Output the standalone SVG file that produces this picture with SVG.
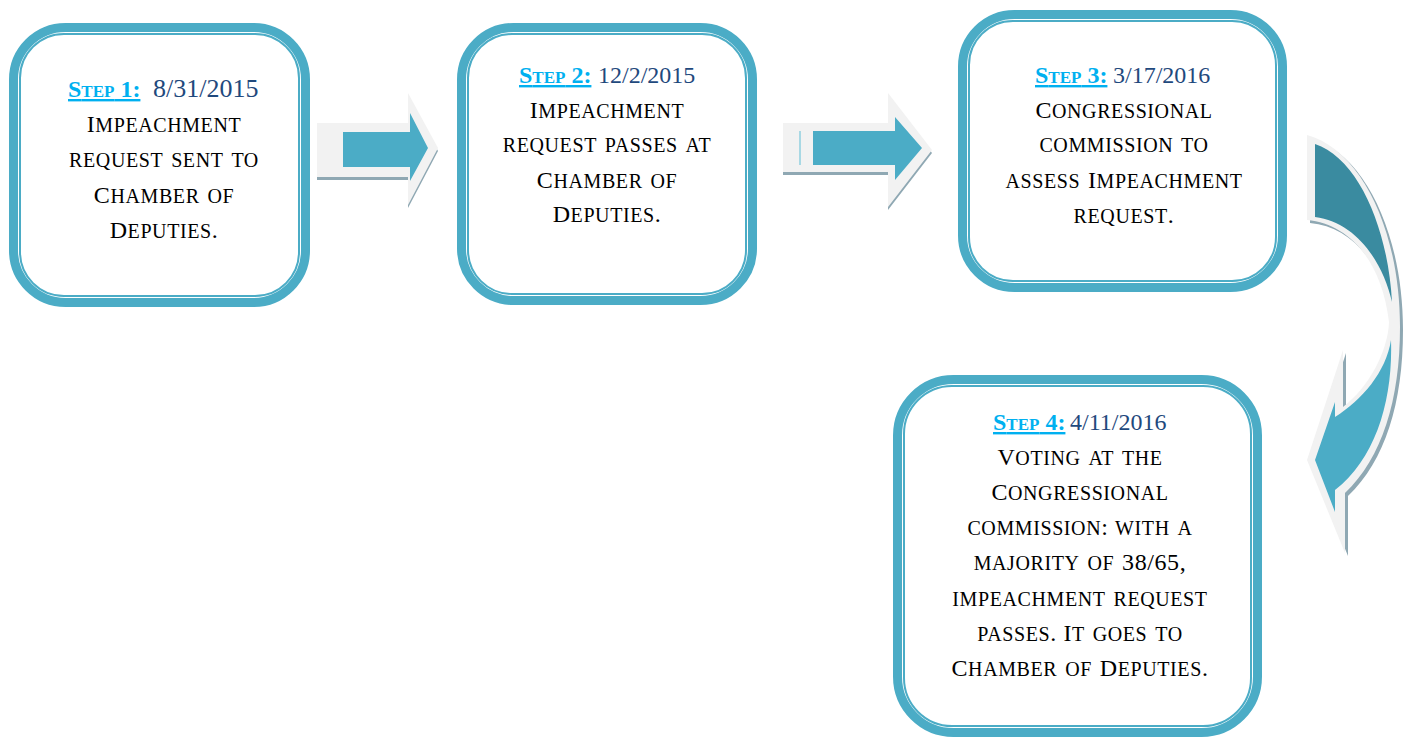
<svg xmlns="http://www.w3.org/2000/svg" width="1410" height="738" viewBox="0 0 1410 738">
<style>
.outer{fill:#fff;stroke:#4BACC6;stroke-width:9}
.inner{fill:none;stroke:#4BACC6;stroke-width:2}
.body{font-family:"Liberation Serif","Times New Roman",serif;font-size:24px;fill:#000;text-anchor:middle;letter-spacing:0.6px}
.sc{font-variant:small-caps;font-size:29px}
.lbl{font-family:"Liberation Serif","Times New Roman",serif;font-size:24px;font-weight:bold;fill:#00B0F0;text-decoration:underline}
.lsc{font-variant:small-caps;font-size:24px}
.date{font-family:"Liberation Serif","Times New Roman",serif;font-size:24px;fill:#1F497D}
.gray{fill:#F2F2F2}
.teal{fill:#4BACC6}
.dark{fill:#3A8BA0}
.shadow{fill:#8FA8B3}
</style>

<g id="connectors">
  <g id="arrow1">
    <path class="shadow" transform="translate(0,3)" d="M317,123 L408,123 L408,93 L438,148 L408,205 L408,177 L317,177 Z"/>
    <path class="gray" d="M317,123 L408,123 L408,93 L438,148 L408,205 L408,177 L317,177 Z"/>
    <path class="teal" d="M343,132 L410,132 L410,113 L428,148 L410,181 L410,167 L343,167 Z"/>
  </g>
  <g id="arrow2">
    <path class="shadow" transform="translate(0,3)" d="M783,123 L888,123 L888,93 L932,150 L888,207 L888,172 L783,172 Z"/>
    <path class="gray" d="M783,123 L888,123 L888,93 L932,150 L888,207 L888,172 L783,172 Z"/>
    <rect x="799" y="131" width="2" height="34" fill="#A8D8E4"/>
    <path class="teal" d="M813,131 L895,131 L895,117 L922,148 L895,180 L895,165 L813,165 Z"/>
  </g>
  <g id="arrow3">
    <path class="shadow" transform="translate(3,3)" d="M1307,135 C1362,150 1400,232 1400,327 C1400,400 1382,458 1345,493 L1345,553 L1307,460 L1343,350 L1343,407 C1368,388 1388,352 1389,322 C1382,262 1350,224 1307,220 Z"/>
    <path class="gray" d="M1307,135 C1362,150 1400,232 1400,327 C1400,400 1382,458 1345,493 L1345,553 L1307,460 L1343,350 L1343,407 C1368,388 1388,352 1389,322 C1382,262 1350,224 1307,220 Z"/>
    <path class="dark" d="M1315,144 C1358,158 1388,228 1392,302 C1383,262 1356,222 1315,217 Z"/>
    <path class="teal" d="M1391,340 C1393,400 1376,458 1335,490 L1335,512 L1315,460 L1335,402 L1335,417 C1362,400 1386,372 1391,340 Z"/>
  </g>
</g>

<g id="step1">
  <rect class="outer" x="13.5" y="27.5" width="292" height="275" rx="52"/>
  <rect class="inner" x="20" y="34" width="279" height="262" rx="44"/>
  <text class="lbl" x="68" y="97">S<tspan class="lsc">tep</tspan> 1:</text>
  <text class="date" x="153" y="97" style="font-size:26px">8/31/2015</text>
  <text class="body" x="164" y="132">I<tspan class="sc">mpeachment</tspan></text>
  <text class="body" x="164" y="167"><tspan class="sc">request sent to</tspan></text>
  <text class="body" x="164" y="203">C<tspan class="sc">hamber of</tspan></text>
  <text class="body" x="164" y="238">D<tspan class="sc">eputies</tspan>.</text>
</g>

<g id="step2">
  <rect class="outer" x="461.5" y="27.5" width="291" height="273" rx="52"/>
  <rect class="inner" x="468" y="34" width="278" height="260" rx="44"/>
  <text class="lbl" x="519" y="83">S<tspan class="lsc">tep</tspan> 2:</text>
  <text class="date" x="598" y="83">12/2/2015</text>
  <text class="body" x="607" y="118">I<tspan class="sc">mpeachment</tspan></text>
  <text class="body" x="607" y="152"><tspan class="sc">request passes at</tspan></text>
  <text class="body" x="607" y="188">C<tspan class="sc">hamber of</tspan></text>
  <text class="body" x="607" y="222">D<tspan class="sc">eputies</tspan>.</text>
</g>

<g id="step3">
  <rect class="outer" x="962.5" y="14.5" width="320" height="273" rx="52"/>
  <rect class="inner" x="969" y="21" width="307" height="260" rx="44"/>
  <text class="lbl" x="1035" y="83">S<tspan class="lsc">tep</tspan> 3:</text>
  <text class="date" x="1113" y="83">3/17/2016</text>
  <text class="body" x="1124" y="118">C<tspan class="sc">ongressional</tspan></text>
  <text class="body" x="1124" y="152"><tspan class="sc">commission to</tspan></text>
  <text class="body" x="1124" y="188"><tspan class="sc">assess </tspan>I<tspan class="sc">mpeachment</tspan></text>
  <text class="body" x="1124" y="223"><tspan class="sc">request</tspan>.</text>
</g>

<g id="step4">
  <rect class="outer" x="897.5" y="379.5" width="360" height="353" rx="56"/>
  <rect class="inner" x="904" y="386" width="347" height="340" rx="48"/>
  <text class="lbl" x="993" y="430">S<tspan class="lsc">tep</tspan> 4:</text>
  <text class="date" x="1070" y="430">4/11/2016</text>
  <text class="body" x="1080" y="465">V<tspan class="sc">oting at the</tspan></text>
  <text class="body" x="1080" y="500">C<tspan class="sc">ongressional</tspan></text>
  <text class="body" x="1080" y="535"><tspan class="sc">commission</tspan>: <tspan class="sc">with a</tspan></text>
  <text class="body" x="1080" y="570"><tspan class="sc">majority of </tspan>38/65,</text>
  <text class="body" x="1080" y="606"><tspan class="sc">impeachment request</tspan></text>
  <text class="body" x="1080" y="641"><tspan class="sc">passes</tspan>. I<tspan class="sc">t goes to</tspan></text>
  <text class="body" x="1080" y="676">C<tspan class="sc">hamber of </tspan>D<tspan class="sc">eputies</tspan>.</text>
</g>
</svg>
